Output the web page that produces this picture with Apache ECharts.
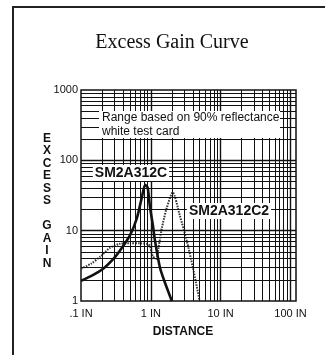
<!DOCTYPE html>
<html>
<head>
<meta charset="utf-8">
<script src="https://cdn.jsdelivr.net/npm/echarts@6/dist/echarts.min.js"></script>
<style>
  html, body { margin: 0; padding: 0; background: #fff; }
  #chart { width: 325px; height: 355px; }
</style>
</head>
<body>
<div id="chart"></div>
<script>
// distance (inches) and excess gain
const solidX = [0.1, 0.15, 0.21, 0.28, 0.36, 0.5, 0.63, 0.74, 0.83, 0.9, 0.97, 1.07, 1.14, 1.35, 1.6, 2.0];
const solidY = [1.93, 2.35, 2.9, 3.8, 5.2, 8.5, 15, 29, 45, 41, 22, 12, 7.5, 3.0, 1.8, 1];

const dotX = [0.1, 0.14, 0.19, 0.26, 0.36, 0.5, 0.7, 0.88, 0.97, 1.07, 1.2, 1.3, 1.44, 1.69, 2.06, 2.6, 3.27, 4.0, 5.0];
const dotY = [2.87, 3.4, 4.3, 5.7, 6.5, 6.6, 6.6, 6.5, 6.1, 4.3, 4.0, 6.0, 11, 21, 35, 16.4, 7.2, 3.0, 1];

// log grid lines
const xGridMinor = [0.2, 0.3, 0.4, 0.5, 0.6, 0.7, 0.8, 0.9, 2, 3, 4, 5, 6, 7, 8, 9, 20, 30, 40, 50, 60, 70, 80, 90];
const xGridMajor = [1, 10, 100];
const yGridMinor = [2, 3, 4, 5, 6, 7, 8, 9, 20, 30, 40, 50, 60, 70, 80, 90, 200, 300, 400, 500, 600, 700, 800, 900];
const yGridMajor = [10, 100];

const xTickLabels = { "-1": ".1 IN", "0": "1 IN", "1": "10 IN", "2": "100 IN" };
const yTickLabels = { "0": "1", "1": "10", "2": "100", "3": "1000" };

const solidLabel = "SM2A312C";
const dotLabel = "SM2A312C2";

const chart = echarts.init(document.getElementById("chart"));

function decadeKey(v) {
    const l = Math.log10(v);
    const r = Math.round(l);
    return Math.abs(l - r) < 1e-6 ? String(r) : null;
}

const gridLines = []
    .concat(xGridMinor.map((v) => ({ xAxis: v })))
    .concat(yGridMinor.map((v) => ({ yAxis: v })))
    .concat(xGridMajor.map((v) => ({ xAxis: v, lineStyle: { width: 1.4 } })))
    .concat(yGridMajor.map((v) => ({ yAxis: v, lineStyle: { width: 1.4 } })));

const options = {
    animation: false,
    grid: {
        left: 81,
        right: 29,
        top: 90,
        bottom: 54,
        show: true,
        borderColor: "#111",
        borderWidth: 1.5,
        backgroundColor: "#fff",
    },
    xAxis: {
        type: "log",
        logBase: 10,
        min: 0.1,
        max: 120,
        axisLine: { show: false },
        axisTick: { show: false },
        splitLine: { show: false },
        axisLabel: {
            margin: 7,
            color: "#111",
            fontFamily: "Liberation Sans",
            fontSize: 11,
            showMaxLabel: false,
            formatter: (v) => {
                const k = decadeKey(v);
                return k !== null && xTickLabels[k] ? xTickLabels[k] : "";
            },
        },
    },
    yAxis: {
        type: "log",
        logBase: 10,
        min: 1,
        max: 1000,
        axisLine: { show: false },
        axisTick: { show: false },
        splitLine: { show: false },
        axisLabel: {
            margin: 3,
            color: "#111",
            fontFamily: "Liberation Sans",
            fontSize: 11,
            formatter: (v) => {
                const k = decadeKey(v);
                return k !== null && yTickLabels[k] ? yTickLabels[k] : "";
            },
        },
    },
    series: [
        {
            name: "grid",
            type: "line",
            data: [[0.1, 1]],
            showSymbol: false,
            lineStyle: { opacity: 0 },
            silent: true,
            z: 1,
            markLine: {
                silent: true,
                symbol: ["none", "none"],
                label: { show: false },
                lineStyle: { color: "#111", width: 1, type: "solid" },
                data: gridLines,
            },
        },
        {
            name: dotLabel,
            type: "line",
            data: dotX.map((x, i) => [x, dotY[i]]),
            showSymbol: false,
            smooth: 0.25,
            z: 3,
            lineStyle: { color: "#333", width: 2, type: [1.5, 1.2] },
        },
        {
            name: solidLabel,
            type: "line",
            data: solidX.map((x, i) => [x, solidY[i]]),
            showSymbol: false,
            smooth: 0.25,
            z: 4,
            lineStyle: { color: "#111", width: 2.6 },
        },
    ],
    graphic: [
        {
            type: "rect",
            shape: { x: 13, y: 7, width: 340, height: 370 },
            style: { fill: null, stroke: "#222", lineWidth: 2 },
            silent: true,
        },
        {
            type: "text",
            x: 172,
            y: 43,
            style: {
                text: "Excess Gain Curve",
                font: "20px 'Liberation Serif'",
                fill: "#111",
                textAlign: "center",
                textVerticalAlign: "middle",
            },
        },
        {
            type: "text",
            x: 47,
            y: 132,
            style: {
                text: "E\nX\nC\nE\nS\nS\n\nG\nA\nI\nN",
                font: "bold 12px 'Liberation Sans'",
                lineHeight: 12.5,
                fill: "#111",
                textAlign: "center",
                textVerticalAlign: "top",
            },
        },
        {
            type: "text",
            x: 183,
            y: 332,
            style: {
                text: "DISTANCE",
                font: "bold 12px 'Liberation Sans'",
                fill: "#111",
                textAlign: "center",
                textVerticalAlign: "middle",
            },
        },
        {
            type: "rect",
            z: 10,
            shape: { x: 99, y: 111, width: 181, height: 27 },
            style: { fill: "#fff", stroke: null },
        },
        {
            type: "text",
            z: 11,
            x: 102,
            y: 118,
            style: {
                text: "Range based on 90% reflectance",
                font: "12px 'Liberation Sans'",
                fill: "#111",
                textVerticalAlign: "middle",
            },
        },
        {
            type: "text",
            z: 11,
            x: 102,
            y: 132,
            style: {
                text: "white test card",
                font: "12px 'Liberation Sans'",
                fill: "#111",
                textVerticalAlign: "middle",
            },
        },
        {
            type: "text",
            z: 11,
            x: 131,
            y: 173,
            style: {
                text: solidLabel,
                font: "bold 14px 'Liberation Sans'",
                fill: "#111",
                backgroundColor: "#fff",
                padding: [1, 2],
                textAlign: "center",
                textVerticalAlign: "middle",
            },
        },
        {
            type: "text",
            z: 11,
            x: 229,
            y: 211,
            style: {
                text: dotLabel,
                font: "bold 14px 'Liberation Sans'",
                fill: "#111",
                backgroundColor: "#fff",
                padding: [1, 2],
                textAlign: "center",
                textVerticalAlign: "middle",
            },
        },
    ],
};

chart.setOption(options);
</script>
</body>
</html>
